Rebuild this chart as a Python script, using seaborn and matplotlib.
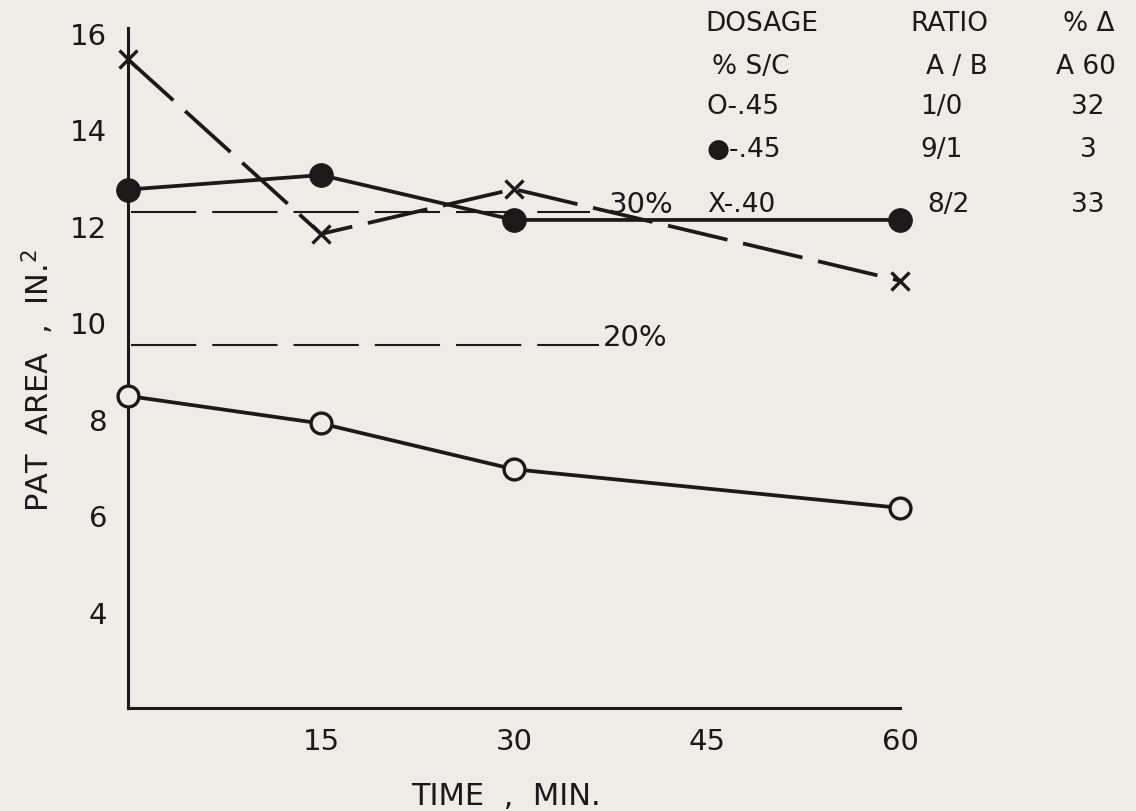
import numpy as np
import pandas as pd
import matplotlib
matplotlib.use("Agg")
import matplotlib.pyplot as plt
import seaborn as sns

# ---- data -------------------------------------------------------------
time_min = [0, 15, 30, 60]
open_circle = [8.47, 7.90, 6.95, 6.15]      # O -.45, ratio 1/0
filled_circle = [12.75, 13.05, 12.12, 12.12]  # ● -.45, ratio 9/1
cross = [15.45, 11.83, 12.76, 10.86]        # X -.40, ratio 8/2

ref_levels = [12.28, 9.52]
ref_labels = ["30%", "20%"]
ref_end = [35.9, 36.6]
ref_label_x = [37.4, 36.9]

y_ticks = [4, 6, 8, 10, 12, 14, 16]
x_ticks = [15, 30, 45, 60]

table_head1 = ["DOSAGE", "RATIO", "% \u0394"]
table_head2 = ["% S/C", "A / B", "A 60"]
dosage = ["O-.45", "\u25CF-.45", "X-.40"]
ratio = ["1/0", "9/1", "8/2"]
pct_change = ["32", "3", "33"]

# ---- style ------------------------------------------------------------
INK = "#1d191a"
BG = "#efebe6"

sns.set_theme(style="white")
plt.rcParams["font.family"] = ["DejaVu Sans"]
plt.rcParams["lines.scale_dashes"] = False
plt.rcParams["text.color"] = INK
plt.rcParams["axes.labelcolor"] = INK

W, H = 1136, 812
fig = plt.figure(figsize=(W / 100, H / 100), dpi=100, facecolor=BG)
ax = fig.add_axes([128 / W, 1 - 709 / H, (900 - 128) / W, (709 - 29) / H])
ax.set_facecolor(BG)

df = pd.DataFrame({"t": time_min, "open": open_circle,
                   "filled": filled_circle, "cross": cross})

lw = 2.7
sns.lineplot(data=df, x="t", y="open", ax=ax, estimator=None, color=INK,
             linewidth=lw, marker="o", markersize=15, markerfacecolor=BG,
             markeredgecolor=INK, markeredgewidth=2.4, clip_on=False, zorder=3)
sns.lineplot(data=df, x="t", y="filled", ax=ax, estimator=None, color=INK,
             linewidth=lw, marker="o", markersize=17, markerfacecolor=INK,
             markeredgecolor=INK, clip_on=False, zorder=3)
sns.lineplot(data=df, x="t", y="cross", ax=ax, estimator=None, color=INK,
             linewidth=lw, linestyle=(0, (44, 11.5)), marker="x",
             markersize=13, markeredgewidth=2.4, markeredgecolor=INK,
             clip_on=False, zorder=3)

# percentage reference levels
for lvl, lab, xe, xl in zip(ref_levels, ref_labels, ref_end, ref_label_x):
    ax.plot([0.2, xe], [lvl, lvl], color=INK, linewidth=1.5,
            linestyle=(0, (47, 11.5)), zorder=2)
    ax.text(xl, lvl, lab, fontsize=21, color=INK, ha="left", va="baseline")

# ---- axes -------------------------------------------------------------
ax.set_xlim(0, 60)
ax.set_ylim(2.0, 16.1)
ax.set_xticks(x_ticks)
ax.set_yticks(y_ticks)
ax.set_xticklabels([str(v) for v in x_ticks])
ax.set_yticklabels([str(v) for v in y_ticks])
ax.tick_params(axis="both", direction="in", length=13, width=2.2,
               color=INK, labelcolor=INK, labelsize=21)
ax.tick_params(axis="y", pad=15)
ax.tick_params(axis="x", pad=14)
for side in ["top", "right"]:
    ax.spines[side].set_visible(False)
for side in ["left", "bottom"]:
    ax.spines[side].set_color(INK)
    ax.spines[side].set_linewidth(2.2)
ax.grid(False)

ax.set_xlabel("TIME  ,  MIN.", fontsize=22)
ax.xaxis.label.set_va("center")
ax.xaxis.set_label_coords(0.49, -0.128)
ax.set_ylabel("PAT  AREA  ,  IN.$^{2}$", fontsize=22)
ax.yaxis.label.set_va("center")
ax.yaxis.set_label_coords(-0.117, 0.484)

# ---- key table --------------------------------------------------------
def ftext(px, py, s, ha="left"):
    fig.text(px / W, 1 - py / H, s, fontsize=19, color=INK, ha=ha,
             va="center")

ftext(705, 24, table_head1[0])
ftext(988, 24, table_head1[1], ha="right")
ftext(1089, 24, table_head1[2], ha="center")
ftext(712, 67, table_head2[0])
ftext(988, 67, table_head2[1], ha="right")
ftext(1086, 67, table_head2[2], ha="center")

row_y = [107, 150, 205]
ratio_x = [920, 920, 927]
for ry, d, r, rx, p in zip(row_y, dosage, ratio, ratio_x, pct_change):
    ftext(707, ry, d)
    ftext(rx, ry, r)
    ftext(1088, ry, p, ha="center")

fig.savefig("out.png", dpi=100, facecolor=BG)
